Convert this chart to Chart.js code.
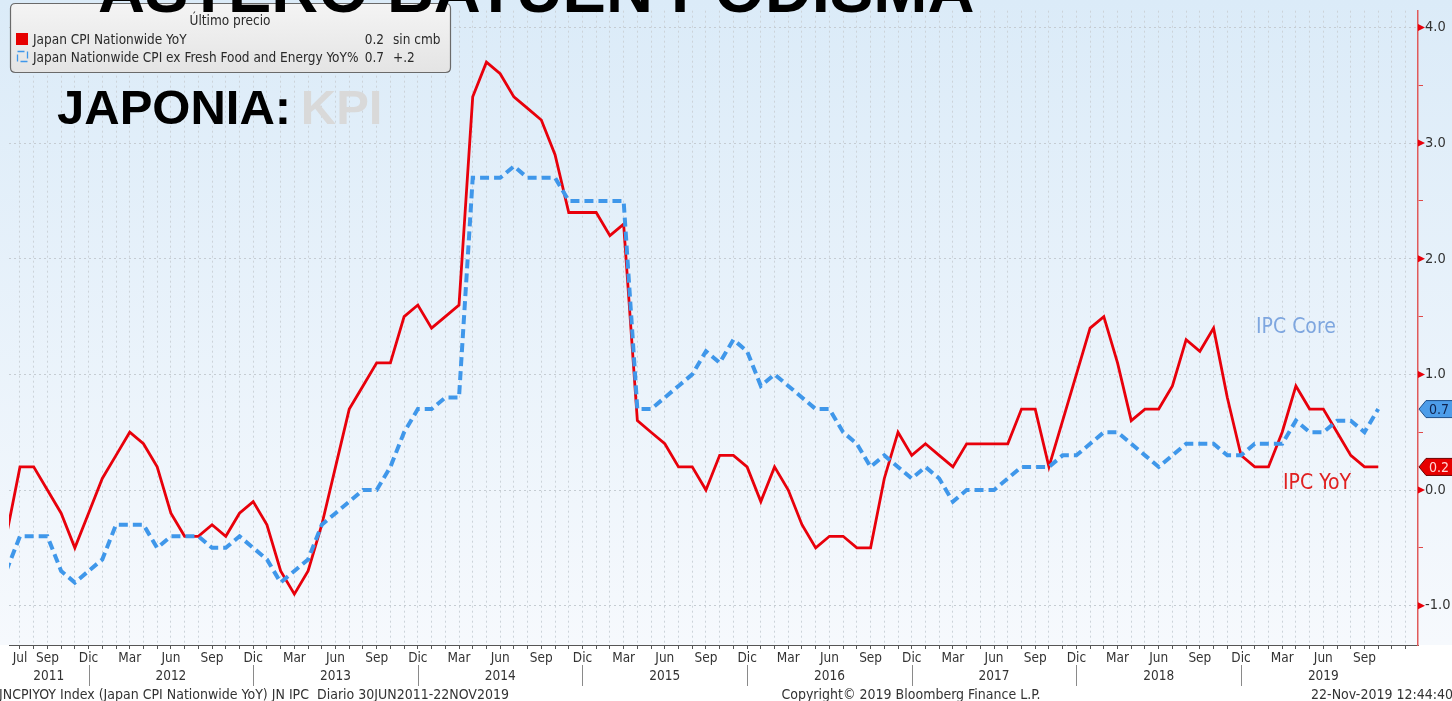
<!DOCTYPE html>
<html>
<head>
<meta charset="utf-8">
<script src="https://cdn.jsdelivr.net/npm/chart.js@4.4.1/dist/chart.umd.min.js"></script>
<style>
  html, body { margin: 0; padding: 0; background: #fff; overflow: hidden; }
  #wrap { position: relative; width: 1452px; height: 701px; }
</style>
</head>
<body>
<div id="wrap"><canvas id="cpiChart"></canvas></div>
<script>
// monthly series, first point = Jun 2011
const monthNames = ['Ene', 'Feb', 'Mar', 'Abr', 'May', 'Jun', 'Jul', 'Ago', 'Sep', 'Oct', 'Nov', 'Dic'];
const firstYear = 2011;
const firstMonth = 5; // Jun
const yearLabels = ['2011', '2012', '2013', '2014', '2015', '2016', '2017', '2018', '2019'];

// Japan CPI Nationwide YoY
const cpiYoY = [
  -0.4,
  0.2, 0.2, 0.0, -0.2, -0.5, -0.2,
  0.1, 0.3, 0.5, 0.4, 0.2, -0.2, -0.4, -0.4, -0.3, -0.4, -0.2, -0.1,
  -0.3, -0.7, -0.9, -0.7, -0.3, 0.2, 0.7, 0.9, 1.1, 1.1, 1.5, 1.6,
  1.4, 1.5, 1.6, 3.4, 3.7, 3.6, 3.4, 3.3, 3.2, 2.9, 2.4, 2.4,
  2.4, 2.2, 2.3, 0.6, 0.5, 0.4, 0.2, 0.2, 0.0, 0.3, 0.3, 0.2,
  -0.1, 0.2, 0.0, -0.3, -0.5, -0.4, -0.4, -0.5, -0.5, 0.1, 0.5, 0.3,
  0.4, 0.3, 0.2, 0.4, 0.4, 0.4, 0.4, 0.7, 0.7, 0.2, 0.6, 1.0,
  1.4, 1.5, 1.1, 0.6, 0.7, 0.7, 0.9, 1.3, 1.2, 1.4, 0.8, 0.3,
  0.2, 0.2, 0.5, 0.9, 0.7, 0.7, 0.5, 0.3, 0.2, 0.2
];

// Japan Nationwide CPI ex Fresh Food and Energy YoY%
const coreYoY = [
  -0.7,
  -0.4, -0.4, -0.4, -0.7, -0.8, -0.7,
  -0.6, -0.3, -0.3, -0.3, -0.5, -0.4, -0.4, -0.4, -0.5, -0.5, -0.4, -0.5,
  -0.6, -0.8, -0.7, -0.6, -0.3, -0.2, -0.1, 0.0, 0.0, 0.2, 0.5, 0.7,
  0.7, 0.8, 0.8, 2.7, 2.7, 2.7, 2.8, 2.7, 2.7, 2.7, 2.5, 2.5,
  2.5, 2.5, 2.5, 0.7, 0.7, 0.8, 0.9, 1.0, 1.2, 1.1, 1.3, 1.2,
  0.9, 1.0, 0.9, 0.8, 0.7, 0.7, 0.5, 0.4, 0.2, 0.3, 0.2, 0.1,
  0.2, 0.1, -0.1, 0.0, 0.0, 0.0, 0.1, 0.2, 0.2, 0.2, 0.3, 0.3,
  0.4, 0.5, 0.5, 0.4, 0.3, 0.2, 0.3, 0.4, 0.4, 0.4, 0.3, 0.3,
  0.4, 0.4, 0.4, 0.6, 0.5, 0.5, 0.6, 0.6, 0.5, 0.7
];

const yTicks = [-1, -0.5, 0, 0.5, 1, 1.5, 2, 2.5, 3, 3.5, 4];
const monthLabels = cpiYoY.map((_, i) => monthNames[(firstMonth + i) % 12]);

const FONT = '"DejaVu Sans Condensed", "DejaVu Sans", sans-serif';
const RED = '#e8000b';
const BLUE = '#3f97ea';

function drawTag(ctx, x, y, text, fill, stroke, color) {
  const h = 17, tip = 7;
  ctx.beginPath();
  ctx.moveTo(x, y);
  ctx.lineTo(x + tip, y - h / 2);
  ctx.lineTo(x + 45, y - h / 2);
  ctx.lineTo(x + 45, y + h / 2);
  ctx.lineTo(x + tip, y + h / 2);
  ctx.closePath();
  ctx.fillStyle = fill;
  ctx.fill();
  ctx.strokeStyle = stroke;
  ctx.lineWidth = 1;
  ctx.stroke();
  ctx.fillStyle = color;
  ctx.font = '14px ' + FONT;
  ctx.textAlign = 'left';
  ctx.textBaseline = 'middle';
  ctx.fillText(text, x + tip + 3, y + 1);
}

function roundBox(ctx, x, y, w, h, r) {
  ctx.beginPath();
  ctx.moveTo(x + r, y);
  ctx.lineTo(x + w - r, y);
  ctx.quadraticCurveTo(x + w, y, x + w, y + r);
  ctx.lineTo(x + w, y + h - r);
  ctx.quadraticCurveTo(x + w, y + h, x + w - r, y + h);
  ctx.lineTo(x + r, y + h);
  ctx.quadraticCurveTo(x, y + h, x, y + h - r);
  ctx.lineTo(x, y + r);
  ctx.quadraticCurveTo(x, y, x + r, y);
  ctx.closePath();
}

const decorPlugin = {
  id: 'decor',
  beforeDraw(chart) {
    const { ctx, chartArea, width, height } = chart;
    ctx.save();
    ctx.fillStyle = '#ffffff';
    ctx.fillRect(0, 0, width, height);
    const g = ctx.createLinearGradient(0, 0, 0, chartArea.bottom);
    g.addColorStop(0, '#dbebf8');
    g.addColorStop(1, '#f6f9fd');
    ctx.fillStyle = g;
    ctx.fillRect(0, 0, width, chartArea.bottom);
    ctx.restore();
  },
  afterDraw(chart) {
    const { ctx, chartArea } = chart;
    const xs = chart.scales.x;
    const ys = chart.scales.y;
    ctx.save();

    // red pointers on the value axis
    ctx.fillStyle = RED;
    yTicks.filter(v => Number.isInteger(v)).forEach(v => {
      const y = ys.getPixelForValue(v);
      ctx.beginPath();
      ctx.moveTo(ys.left, y - 3.5);
      ctx.lineTo(ys.left + 7, y);
      ctx.lineTo(ys.left, y + 3.5);
      ctx.closePath();
      ctx.fill();
    });

    // last value tags
    drawTag(ctx, ys.left + 1, ys.getPixelForValue(coreYoY[coreYoY.length - 1]), '0.7', '#4d9de9', '#1d4f8a', '#10244f');
    drawTag(ctx, ys.left + 1, ys.getPixelForValue(cpiYoY[cpiYoY.length - 1]), '0.2', '#e60000', '#6d0000', '#ffd6d6');

    // series annotations
    ctx.font = '21px ' + FONT;
    ctx.textBaseline = 'alphabetic';
    ctx.textAlign = 'left';
    ctx.fillStyle = '#7ea6df';
    ctx.fillText('IPC Core', chartArea.right - 162, 333);
    ctx.fillStyle = '#e02020';
    ctx.fillText('IPC YoY', chartArea.right - 135, 489);

    // year row
    ctx.font = '13.5px ' + FONT;
    ctx.fillStyle = '#333';
    ctx.textAlign = 'center';
    ctx.textBaseline = 'middle';
    ctx.strokeStyle = '#8a8a8a';
    ctx.lineWidth = 1;
    yearLabels.forEach((yr, k) => {
      const junIdx = k * 12 + (5 - firstMonth);
      const decIdx = k * 12 + (11 - firstMonth);
      const pos = junIdx < xs.min ? (xs.min + decIdx) / 2 : junIdx;
      ctx.fillText(yr, xs.getPixelForValue(pos), 676);
      if (decIdx < monthLabels.length - 1) {
        const sx = Math.round(xs.getPixelForValue(decIdx)) + 0.5;
        ctx.beginPath();
        ctx.moveTo(sx, 665);
        ctx.lineTo(sx, 686);
        ctx.stroke();
      }
    });

    // footer
    ctx.font = '14px ' + FONT;
    ctx.fillStyle = '#333';
    ctx.textBaseline = 'alphabetic';
    ctx.textAlign = 'left';
    ctx.fillText('JNCPIYOY Index (Japan CPI Nationwide YoY) JN IPC  Diario 30JUN2011-22NOV2019', -1, 699);
    ctx.textAlign = 'center';
    ctx.fillText('Copyright\u00a9 2019 Bloomberg Finance L.P.', 911, 699);
    ctx.textAlign = 'right';
    ctx.fillText('22-Nov-2019 12:44:40', 1453, 699);

    // legend box
    const lg = ctx.createLinearGradient(0, 4, 0, 72);
    lg.addColorStop(0, '#f4f4f4');
    lg.addColorStop(1, '#e4e4e4');
    roundBox(ctx, 10.5, 3.5, 440, 69, 5);
    ctx.fillStyle = lg;
    ctx.fill();
    ctx.strokeStyle = '#6a6a6a';
    ctx.lineWidth = 1.2;
    ctx.stroke();

    ctx.font = '13.5px ' + FONT;
    ctx.fillStyle = '#2a2a2a';
    ctx.textAlign = 'center';
    ctx.fillText('\u00daltimo precio', 230, 25);
    ctx.textAlign = 'left';
    ctx.fillText('Japan CPI Nationwide YoY', 33, 44);
    ctx.fillText('Japan Nationwide CPI ex Fresh Food and Energy YoY%', 33, 62);
    ctx.textAlign = 'right';
    ctx.fillText('0.2', 384, 44);
    ctx.fillText('0.7', 384, 62);
    ctx.textAlign = 'left';
    ctx.fillText('sin cmb', 393, 44);
    ctx.fillText('+.2', 393, 62);
    ctx.fillStyle = '#e60000';
    ctx.fillRect(16, 33, 12, 12);
    ctx.strokeStyle = BLUE;
    ctx.lineWidth = 1.3;
    ctx.setLineDash([7, 3]);
    ctx.strokeRect(17.5, 51.5, 10, 10);
    ctx.setLineDash([]);

    // overlay titles
    ctx.fillStyle = '#000';
    ctx.textAlign = 'left';
    ctx.font = 'bold 65px "Liberation Sans", Arial, sans-serif';
    ctx.fillText('ASTERO BATUEN PODISMA', 98, 12);
    ctx.font = 'bold 49px "Liberation Sans", Arial, sans-serif';
    ctx.fillText('JAPONIA:', 57, 124);
    const w = ctx.measureText('JAPONIA: ').width;
    ctx.fillStyle = '#d9d9d9';
    ctx.fillText('KPI', 57 + w - 4, 124);

    ctx.restore();
  }
};

const ctx = document.getElementById('cpiChart').getContext('2d');
new Chart(ctx, {
  type: 'line',
  data: {
    datasets: [
      {
        label: 'Japan Nationwide CPI ex Fresh Food and Energy YoY%',
        data: coreYoY.map((v, i) => ({ x: i, y: v })),
        borderColor: BLUE,
        borderWidth: 4,
        borderDash: [9, 5],
        pointRadius: 0,
        tension: 0,
        order: 0
      },
      {
        label: 'Japan CPI Nationwide YoY',
        data: cpiYoY.map((v, i) => ({ x: i, y: v })),
        borderColor: RED,
        borderWidth: 2.8,
        pointRadius: 0,
        tension: 0,
        order: 1
      }
    ]
  },
  options: {
    responsive: true,
    maintainAspectRatio: false,
    animation: false,
    devicePixelRatio: 1,
    layout: { padding: { left: 9, top: 0, right: 0, bottom: 0 } },
    plugins: {
      legend: { display: false },
      tooltip: { enabled: false }
    },
    scales: {
      x: {
        type: 'linear',
        min: 0.2,
        max: 102.9,
        afterBuildTicks(scale) {
          const t = [];
          for (let v = Math.ceil(scale.min); v <= scale.max; v++) t.push({ value: v });
          scale.ticks = t;
        },
        afterFit(scale) { scale.height = 56; },
        grid: {
          color: '#ccd3d9',
          lineWidth: 1,
          tickColor: '#555',
          tickLength: 4
        },
        border: { color: '#555', width: 1, dash: [2, 3] },
        ticks: {
          autoSkip: false,
          maxRotation: 0,
          minRotation: 0,
          padding: 1,
          color: '#333',
          font: { family: FONT, size: 13.5 },
          callback(value) {
            const i = Math.round(value);
            if (i >= monthLabels.length) return '';
            const m = (firstMonth + i) % 12;
            return (i === Math.ceil(this.min) || m % 3 === 2) ? monthLabels[i] : '';
          }
        }
      },
      y: {
        type: 'linear',
        position: 'right',
        min: -1.34,
        max: 4.145,
        afterBuildTicks(scale) {
          scale.ticks = yTicks.map(v => ({ value: v }));
        },
        afterFit(scale) { scale.width = 34; },
        grid: {
          color: c => Number.isInteger(c.tick.value) ? '#c5ccd2' : 'rgba(0,0,0,0)',
          tickColor: '#e04848',
          tickLength: 5,
          lineWidth: 1
        },
        border: { color: '#e05a5a', width: 1.5, dash: [2, 3] },
        ticks: {
          padding: 2,
          color: '#333',
          font: { family: FONT, size: 14.5 },
          callback: v => Number.isInteger(v) ? v.toFixed(1) : ''
        }
      }
    }
  },
  plugins: [decorPlugin]
});
</script>
</body>
</html>
